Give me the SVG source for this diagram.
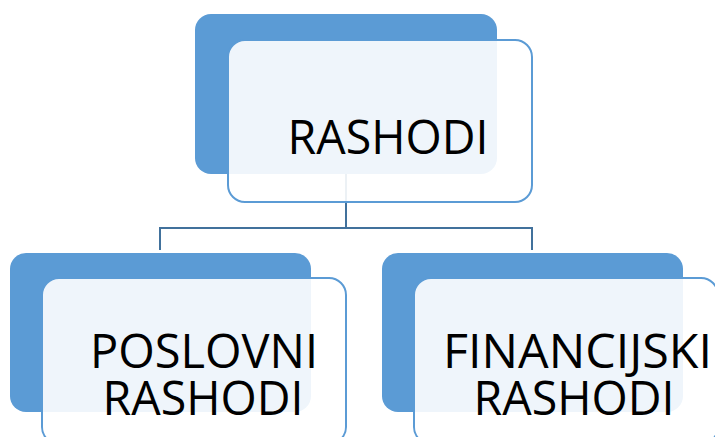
<svg xmlns="http://www.w3.org/2000/svg" width="715" height="437" viewBox="0 0 715 437">
<style>
.back{fill:#5b9bd5;}
.front{fill:#ffffff;fill-opacity:0.9;stroke:#5b9bd5;stroke-width:2;}
.lbl{font-family:"Open Sans","Liberation Sans",sans-serif;font-size:47px;fill:#000;text-anchor:middle;}
.conn{fill:none;stroke:#41719c;stroke-width:2;}
</style>
<rect width="715" height="437" fill="#fff"/>
<g id="connectors">
<path class="conn" d="M346,174 V228 M160,228 H532 M160,227 V250 M532,227 V250"/>
</g>
<g id="node-rashodi">
<rect class="back" x="195" y="14" width="302" height="160" rx="16"/>
<rect class="front" x="228" y="40" width="304" height="162" rx="17"/>
<text class="lbl" x="388" y="154" textLength="201" lengthAdjust="spacingAndGlyphs">RASHODI</text>
</g>
<g id="node-poslovni">
<rect class="back" x="10" y="253" width="301" height="159" rx="16"/>
<rect class="front" x="42" y="278" width="304" height="166" rx="17"/>
<text class="lbl" x="204" y="368" textLength="228" lengthAdjust="spacingAndGlyphs">POSLOVNI</text>
<text class="lbl" x="203" y="415" textLength="201" lengthAdjust="spacingAndGlyphs">RASHODI</text>
</g>
<g id="node-financijski">
<rect class="back" x="382" y="253" width="301" height="159" rx="16"/>
<rect class="front" x="414" y="278" width="304" height="166" rx="17"/>
<text class="lbl" x="577.5" y="368" textLength="269" lengthAdjust="spacingAndGlyphs">FINANCIJSKI</text>
<text class="lbl" x="574" y="415" textLength="201" lengthAdjust="spacingAndGlyphs">RASHODI</text>
</g>
</svg>
